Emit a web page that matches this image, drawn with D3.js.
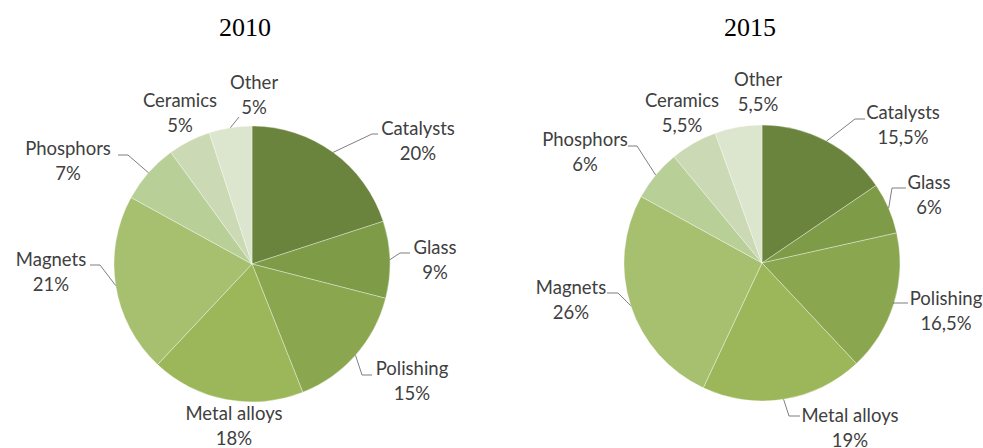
<!DOCTYPE html>
<html>
<head>
<meta charset="utf-8">
<script src="https://cdn.jsdelivr.net/npm/d3@7"></script>
<style>
  body { margin: 0; background: #fff; }
</style>
</head>
<body>
<script>
// data
var categories = ['Catalysts', 'Glass', 'Polishing', 'Metal alloys', 'Magnets', 'Phosphors', 'Ceramics', 'Other'];
var years = ['2010', '2015'];
var values2010 = [20, 9, 15, 18, 21, 7, 5, 5];
var values2015 = [15.5, 6, 16.5, 19, 26, 6, 5.5, 5.5];
var colors = ['#6b843d', '#7e9b47', '#8aa74f', '#9bb75a', '#a6c06f', '#b9cf98', '#cbdab4', '#dce5cd'];

// label layout relative to pie centre: text centre (tx, ty) and leader elbow / end
var labels2010 = [
  {tx: 166, ty: -135, ex: 120, ey: -130, hx: 126},
  {tx: 183, ty: -16, ex: 148, ey: -11, hx: 158},
  {tx: 160, ty: 105, ex: 110, ey: 111, hx: 120},
  {tx: -18, ty: 150},
  {tx: -201, ty: -4, ex: -152, ey: 1, hx: -162},
  {tx: -184, ty: -115, ex: -124, ey: -109, hx: -134},
  {tx: -72, ty: -163},
  {tx: 2, ty: -181, ex: -13, ey: -147}
];
var labels2015 = [
  {tx: 141, ty: -150, ex: 93, ey: -144, hx: 103},
  {tx: 167, ty: -80, ex: 130, ey: -75, hx: 144},
  {tx: 184, ty: 36, ex: 131, ey: 40, hx: 146},
  {tx: 88, ty: 153, ex: 27, ey: 153, hx: 38},
  {tx: -191, ty: 25, ex: -144, ey: 30, hx: -155},
  {tx: -177, ty: -123, ex: -125, ey: -117, hx: -134},
  {tx: -80, ty: -162},
  {tx: -4, ty: -183}
];

var width = 983, height = 448;
var radius = 138;
var pies = [
  {year: years[0], values: values2010, labels: labels2010, cx: 252, cy: 264, titleX: 245},
  {year: years[1], values: values2015, labels: labels2015, cx: 762, cy: 263, titleX: 750}
];

var fmt = function(v) { return String(v).replace('.', ',') + '%'; };

var svg = d3.select('body').append('svg')
  .attr('width', width)
  .attr('height', height);

var pie = d3.pie().sort(null).value(function(d) { return d; });
var arc = d3.arc().innerRadius(0).outerRadius(radius);

pies.forEach(function(p) {
  svg.append('text')
    .attr('x', p.titleX)
    .attr('y', 36)
    .attr('text-anchor', 'middle')
    .style('font-family', '"Liberation Serif", "Times New Roman", serif')
    .style('font-size', '26px')
    .style('fill', '#000')
    .text(p.year);

  var g = svg.append('g').attr('transform', 'translate(' + p.cx + ',' + p.cy + ')');
  var arcs = pie(p.values);

  g.selectAll('path.slice')
    .data(arcs)
    .enter()
    .append('path')
    .attr('class', 'slice')
    .attr('d', arc)
    .attr('fill', function(d, i) { return colors[i]; })
    .attr('stroke', '#fff')
    .attr('stroke-width', 0.5)
    .attr('stroke-opacity', 0.7);

  // leader lines
  g.selectAll('path.leader')
    .data(arcs)
    .enter()
    .filter(function(d, i) { return p.labels[i].ex !== undefined; })
    .append('path')
    .attr('class', 'leader')
    .attr('fill', 'none')
    .attr('stroke', '#7f7f7f')
    .attr('stroke-width', 1)
    .attr('d', function(d) {
      var l = p.labels[d.index];
      var a = (d.startAngle + d.endAngle) / 2;
      var sx = radius * Math.sin(a), sy = -radius * Math.cos(a);
      var pts = [[sx, sy], [l.ex, l.ey]];
      if (l.hx !== undefined) pts.push([l.hx, l.ey]);
      return d3.line()(pts);
    });

  var lab = g.selectAll('text.lab')
    .data(arcs)
    .enter()
    .append('text')
    .attr('class', 'lab')
    .attr('text-anchor', 'middle')
    .style('font-family', 'Lato, "Open Sans", sans-serif')
    .style('font-size', '18.5px')
    .style('fill', '#404040');

  lab.append('tspan')
    .attr('x', function(d) { return p.labels[d.index].tx; })
    .attr('y', function(d) { return p.labels[d.index].ty + 6; })
    .text(function(d) { return categories[d.index]; });
  lab.append('tspan')
    .attr('x', function(d) { return p.labels[d.index].tx; })
    .attr('y', function(d) { return p.labels[d.index].ty + 31; })
    .text(function(d) { return fmt(d.data); });
});
</script>
</body>
</html>
